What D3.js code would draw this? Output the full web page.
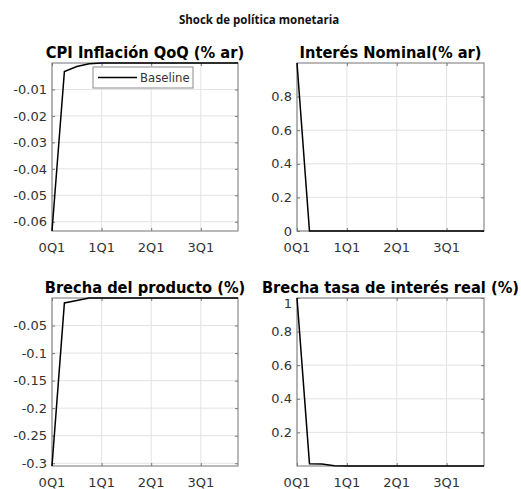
<!DOCTYPE html>
<html>
<head>
<meta charset="utf-8">
<script src="https://cdn.jsdelivr.net/npm/d3@7"></script>
<style>
  body { margin: 0; background: #fff; }
  svg { display: block; }
  .tick-label { font-family: "DejaVu Sans", sans-serif; font-size: 13px; fill: #333; }
  .legend-label { font-family: "DejaVu Sans Condensed", "DejaVu Sans", sans-serif; font-stretch: condensed; font-size: 13px; fill: #333; }
  .panel-title { font-family: "DejaVu Sans Condensed", "DejaVu Sans", sans-serif; font-stretch: condensed; font-weight: bold; font-size: 16.3px; fill: #000; }
</style>
</head>
<body>
<svg id="chart"></svg>
<script>
// periods 0..15 (quarters)
var periods = d3.range(16)
var quarterTicks = [0, 4, 8, 12]
var quarterLabels = ["0Q1", "1Q1", "2Q1", "3Q1"]

var cpiInflacion = [-0.0635, -0.0032, -0.0013, -0.0003, 0, 0, 0, 0, 0, 0, 0, 0, 0, 0, 0, 0]
var interesNominal = [1, 0, 0, 0, 0, 0, 0, 0, 0, 0, 0, 0, 0, 0, 0, 0]
var brechaProducto = [-0.305, -0.009, -0.0044, -0.0002, 0, 0, 0, 0, 0, 0, 0, 0, 0, 0, 0, 0]
var brechaTasaReal = [1, 0.014, 0.012, 0.001, 0, 0, 0, 0, 0, 0, 0, 0, 0, 0, 0, 0]

var cpiTicks = [-0.06, -0.05, -0.04, -0.03, -0.02, -0.01]
var nominalTicks = [0, 0.2, 0.4, 0.6, 0.8]
var productoTicks = [-0.3, -0.25, -0.2, -0.15, -0.1, -0.05]
var realTicks = [0.2, 0.4, 0.6, 0.8, 1]

var superTitle = "Shock de política monetaria"
var legendLabel = "Baseline"

var width = 521, height = 489

var svg = d3.select("#chart")
	.attr("width", width)
	.attr("height", height)

svg.append("text")
	.attr("x", 259)
	.attr("y", 24)
	.attr("text-anchor", "middle")
	.style("font-family", "'Open Sans', 'Noto Sans', sans-serif")
	.style("font-weight", "bold")
	.style("font-size", "11.5px")
	.style("fill", "#111")
	.text(superTitle)

var panels = [
	{ title: "CPI Inflación QoQ (% ar)", values: cpiInflacion, ticks: cpiTicks, left: 52, right: 238, top: 63, bottom: 231, legend: true },
	{ title: "Interés Nominal(% ar)", values: interesNominal, ticks: nominalTicks, left: 297, right: 484, top: 63, bottom: 231 },
	{ title: "Brecha del producto (%)", values: brechaProducto, ticks: productoTicks, left: 52, right: 238, top: 298, bottom: 466 },
	{ title: "Brecha tasa de interés real (%)", values: brechaTasaReal, ticks: realTicks, left: 297, right: 484, top: 298, bottom: 466 }
]

function fmt(v) {
	return v === 0 ? "0" : String(+v.toFixed(2))
}

panels.forEach(function (p) {
	var xScale = d3.scaleLinear()
		.domain(d3.extent(periods))
		.range([p.left, p.right])

	var yScale = d3.scaleLinear()
		.domain(d3.extent(p.values))
		.range([p.bottom, p.top])

	var g = svg.append("g")

	// grid
	g.selectAll(".gx")
		.data(quarterTicks)
		.enter()
		.append("line")
		.attr("x1", d => xScale(d)).attr("x2", d => xScale(d))
		.attr("y1", p.top).attr("y2", p.bottom)
		.style("stroke", "#e3e3e3")
		.style("stroke-width", 1)

	g.selectAll(".gy")
		.data(p.ticks)
		.enter()
		.append("line")
		.attr("x1", p.left).attr("x2", p.right)
		.attr("y1", d => yScale(d)).attr("y2", d => yScale(d))
		.style("stroke", "#e3e3e3")
		.style("stroke-width", 1)

	// box
	g.append("rect")
		.attr("x", p.left)
		.attr("y", p.top)
		.attr("width", p.right - p.left)
		.attr("height", p.bottom - p.top)
		.style("fill", "none")
		.style("stroke", "#8a8a8a")
		.style("stroke-width", 1.2)

	// inward tick marks
	var yAxisL = d3.axisLeft(yScale).tickValues(p.ticks).tickSize(-3).tickFormat("")
	var yAxisR = d3.axisRight(yScale).tickValues(p.ticks).tickSize(-3).tickFormat("")
	var xAxisB = d3.axisBottom(xScale).tickValues(quarterTicks).tickSize(-3).tickFormat("")
	var xAxisT = d3.axisTop(xScale).tickValues(quarterTicks).tickSize(-3).tickFormat("")
	;[[yAxisL, "translate(" + p.left + ",0)"], [yAxisR, "translate(" + p.right + ",0)"],
	  [xAxisB, "translate(0," + p.bottom + ")"], [xAxisT, "translate(0," + p.top + ")"]].forEach(function (a) {
		var ax = g.append("g").attr("transform", a[1]).call(a[0])
		ax.select(".domain").remove()
		ax.selectAll("line").style("stroke", "#777")
	})

	// tick labels
	g.selectAll(".yl")
		.data(p.ticks)
		.enter()
		.append("text")
		.attr("class", "tick-label")
		.attr("x", p.left - 5)
		.attr("y", d => Math.max(yScale(d), p.top + 5))
		.attr("dy", "0.36em")
		.attr("text-anchor", "end")
		.text(fmt)

	g.selectAll(".xl")
		.data(quarterTicks)
		.enter()
		.append("text")
		.attr("class", "tick-label")
		.attr("x", d => xScale(d))
		.attr("y", p.bottom + 16)
		.attr("dy", "0.36em")
		.attr("text-anchor", "middle")
		.text((d, i) => quarterLabels[i])

	// title
	g.append("text")
		.attr("class", "panel-title")
		.attr("x", (p.left + p.right) / 2)
		.attr("y", p.top - 5)
		.attr("text-anchor", "middle")
		.text(p.title)

	// line
	var line = d3.line()
		.x(d => xScale(d))
		.y((d, i) => yScale(p.values[i]))

	g.append("path")
		.datum(periods)
		.attr("d", line)
		.style("fill", "none")
		.style("stroke", "#000")
		.style("stroke-width", 1.5)

	if (p.legend) {
		var lg = g.append("g")
		lg.append("rect")
			.attr("x", 93).attr("y", 67)
			.attr("width", 100).attr("height", 21)
			.style("fill", "#fff")
			.style("stroke", "#8a8a8a")
			.style("stroke-width", 1)
		lg.append("line")
			.attr("x1", 98).attr("x2", 137)
			.attr("y1", 77.5).attr("y2", 77.5)
			.style("stroke", "#000")
			.style("stroke-width", 1.5)
		lg.append("text")
			.attr("class", "legend-label")
			.attr("x", 140)
			.attr("y", 77.5)
			.attr("dy", "0.36em")
			.text(legendLabel)
	}
})
</script>
</body>
</html>
